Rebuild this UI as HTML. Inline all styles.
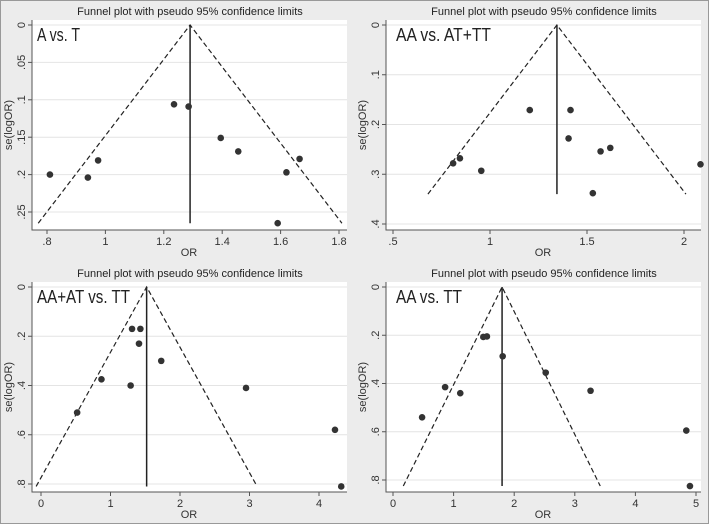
<!DOCTYPE html>
<html><head><meta charset="utf-8"><style>
body{margin:0;background:#fff}
svg{display:block;font-family:"Liberation Sans",sans-serif}
</style></head><body>
<svg id="s" width="709" height="524" xmlns="http://www.w3.org/2000/svg">
<rect x="0" y="0" width="709" height="524" fill="#ececec"/>
<rect x="0.5" y="0.5" width="708" height="523" fill="none" stroke="#999"/>
</svg>
<script>
// Panel 1: A vs. T
const p1Label="A vs. T";
const p1OR=[0.81,0.94,0.975,1.235,1.285,1.395,1.455,1.62,1.665,1.59];
const p1SE=[0.20,0.204,0.181,0.106,0.109,0.151,0.169,0.197,0.179,0.265];
const p1Funnel=[0.77,1.29,1.81], p1MaxSE=0.265;
const p1XTicks=[0.8,1,1.2,1.4,1.6,1.8], p1XTickLabels=[".8","1","1.2","1.4","1.6","1.8"];
const p1YTicks=[0,0.05,0.1,0.15,0.2,0.25], p1YTickLabels=["0",".05",".1",".15",".2",".25"];
// Panel 2: AA vs. AT+TT
const p2Label="AA vs. AT+TT";
const p2OR=[0.81,0.845,0.955,1.205,1.415,1.405,1.57,1.62,2.085,1.53];
const p2SE=[0.278,0.268,0.293,0.171,0.171,0.228,0.254,0.247,0.28,0.338];
const p2Funnel=[0.68,1.345,2.01], p2MaxSE=0.34;
const p2XTicks=[0.5,1,1.5,2], p2XTickLabels=[".5","1","1.5","2"];
const p2YTicks=[0,0.1,0.2,0.3,0.4], p2YTickLabels=["0",".1",".2",".3",".4"];
// Panel 3: AA+AT vs. TT
const p3Label="AA+AT vs. TT";
const p3OR=[0.52,0.87,1.29,1.31,1.43,1.41,1.73,2.95,4.23,4.32];
const p3SE=[0.51,0.375,0.40,0.17,0.17,0.23,0.30,0.41,0.58,0.81];
const p3Funnel=[-0.07,1.52,3.11], p3MaxSE=0.81;
const p3XTicks=[0,1,2,3,4], p3XTickLabels=["0","1","2","3","4"];
const p3YTicks=[0,0.2,0.4,0.6,0.8], p3YTickLabels=["0",".2",".4",".6",".8"];
// Panel 4: AA vs. TT
const p4Label="AA vs. TT";
const p4OR=[0.48,0.86,1.11,1.49,1.55,1.81,2.52,3.26,4.84,4.9];
const p4SE=[0.54,0.415,0.44,0.207,0.205,0.287,0.355,0.43,0.595,0.825];
const p4Funnel=[0.17,1.8,3.42], p4MaxSE=0.825;
const p4XTicks=[0,1,2,3,4,5], p4XTickLabels=["0","1","2","3","4","5"];
const p4YTicks=[0,0.2,0.4,0.6,0.8], p4YTickLabels=["0",".2",".4",".6",".8"];

const NS="http://www.w3.org/2000/svg";
const svg=document.getElementById('s');
function mk(t,a,parent){const e=document.createElementNS(NS,t);for(const k in a)e.setAttribute(k,a[k]);(parent||svg).appendChild(e);return e;}

function panel(id,ox,oy,label,lx,lw,OR,SE,fun,maxSE,xt,xtl,yt,ytl,xd,xr,yd,yr){
  const g=mk('g',{});
  
  
  const X=v=>ox+xr[0]+(v-xd[0])/(xd[1]-xd[0])*(xr[1]-xr[0]);
  const Y=v=>oy+yr[0]+(v-yd[0])/(yd[1]-yd[0])*(yr[1]-yr[0]);
  const pa=mk('rect',{x:ox+32,y:oy+20,width:315,height:210,fill:'#fff'},g);
  
  
  yt.forEach((v,i)=>{
    const gl=mk('line',{x1:ox+32,x2:ox+347,y1:Y(v),y2:Y(v),stroke:'#e4e4e4','stroke-width':1},g);
    
    
    const tk=mk('line',{x1:ox+28,x2:ox+32,y1:Y(v),y2:Y(v),stroke:'#555'},g);
    
    
    const t=mk('text',{x:ox+25,y:Y(v),'font-size':11,fill:'#333','text-anchor':'middle',transform:`rotate(-90 ${ox+25} ${Y(v)})`},g);
    t.textContent=ytl[i];
    
    
  });
  xt.forEach((v,i)=>{
    const tk=mk('line',{x1:X(v),x2:X(v),y1:oy+230,y2:oy+234,stroke:'#555'},g);
    
    
    const t=mk('text',{x:X(v),y:oy+245,'font-size':11,fill:'#333','text-anchor':'middle'},g);
    t.textContent=xtl[i];
    
    
  });
  const ax=mk('path',{d:`M${ox+32},${oy+20}V${oy+230}H${ox+347}`,fill:'none',stroke:'#555'},g);
  
  
  const f=mk('path',{d:`M${X(fun[0])},${Y(maxSE)}L${X(fun[1])},${Y(0)}L${X(fun[2])},${Y(maxSE)}`,fill:'none',stroke:'#222','stroke-width':1.2,'stroke-dasharray':'5,3'},g);
  
  
  const vl=mk('line',{x1:X(fun[1]),x2:X(fun[1]),y1:Y(0),y2:Y(maxSE),stroke:'#222','stroke-width':1.5},g);
  
  
  OR.forEach((v,i)=>{
    const c=mk('circle',{cx:X(v),cy:Y(SE[i]),r:3.3,fill:'#333'},g);
    
    
  });
  const ti=mk('text',{x:ox+190,y:oy+15,'font-size':11,fill:'#222','text-anchor':'middle'},g);
  ti.textContent='Funnel plot with pseudo 95% confidence limits';
  
  
  const xl=mk('text',{x:ox+189,y:oy+256,'font-size':11,fill:'#333','text-anchor':'middle'},g);
  xl.textContent='OR';
  
  
  const yl=mk('text',{x:ox+12,y:oy+125,'font-size':11,fill:'#333','text-anchor':'middle',transform:`rotate(-90 ${ox+12} ${oy+125})`},g);
  yl.textContent='se(logOR)';
  
  
  const lb=mk('text',{x:ox+lx,y:oy+41,'font-size':18,fill:'#222',textLength:lw,lengthAdjust:'spacingAndGlyphs'},g);
  lb.textContent=label;
  
  
}
panel('a-vs-t',0,0,p1Label,37,43,p1OR,p1SE,p1Funnel,p1MaxSE,p1XTicks,p1XTickLabels,p1YTicks,p1YTickLabels,[0.8,1.8],[47,339],[0,0.25],[25,212]);
panel('aa-vs-at-tt',354,0,p2Label,42,95,p2OR,p2SE,p2Funnel,p2MaxSE,p2XTicks,p2XTickLabels,p2YTicks,p2YTickLabels,[0.5,2],[39,330],[0,0.4],[25,224]);
panel('aa-at-vs-tt',0,262,p3Label,37,93,p3OR,p3SE,p3Funnel,p3MaxSE,p3XTicks,p3XTickLabels,p3YTicks,p3YTickLabels,[0,4],[41,319],[0,0.8],[25,222]);
panel('aa-vs-tt',354,262,p4Label,42,66,p4OR,p4SE,p4Funnel,p4MaxSE,p4XTicks,p4XTickLabels,p4YTicks,p4YTickLabels,[0,5],[39,342],[0,0.8],[25,218]);
</script>
</body></html>
